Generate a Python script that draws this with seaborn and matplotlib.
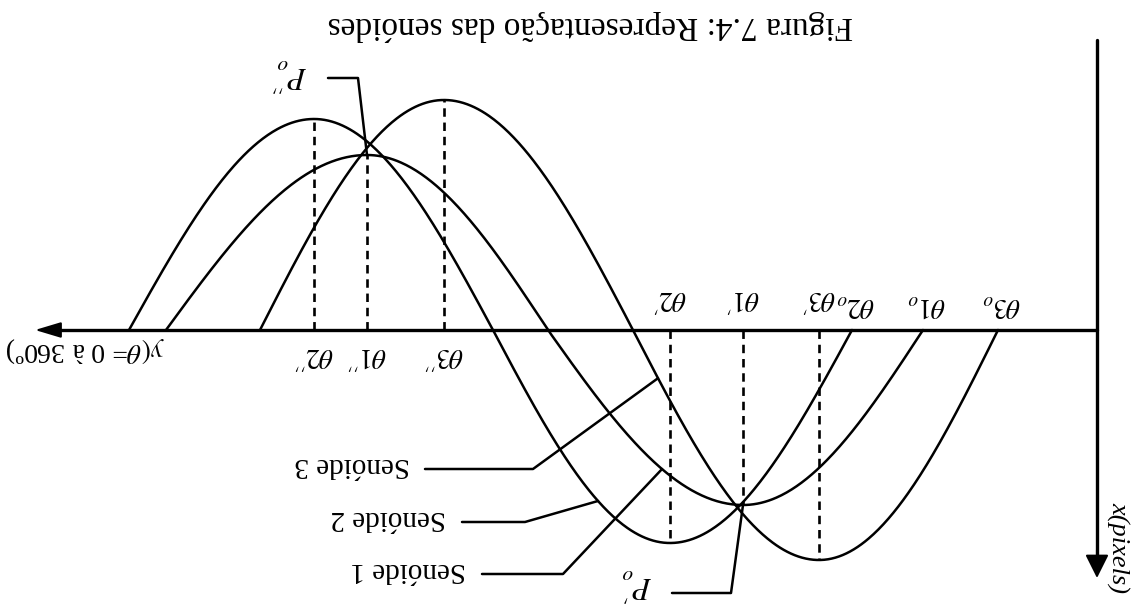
import numpy as np
import pandas as pd
import matplotlib
matplotlib.use("Agg")
import matplotlib.pyplot as plt
from matplotlib.patches import ArrowStyle
import seaborn as sns

sns.set_theme(style="white")
plt.rcParams["font.family"] = ["Liberation Serif", "DejaVu Serif"]
plt.rcParams["mathtext.fontset"] = "stix"

# Canvas in pixel units (the drawing is shown turned by 180 degrees)
W, H = 1133, 607
AXIS_Y = 330    # level of the θ axis
AXIS_X = 1097   # position of the x(pixels) axis

# Three sinusoids, each given by its zero crossings, extremes and lobe sizes
curve_names = ["Senóide 1", "Senóide 2", "Senóide 3"]
theta_start = [923, 852, 998]     # θ1o, θ2o, θ3o
theta_trough = [743, 670, 819]    # θ1', θ2', θ3'
theta_mid = [548, 493, 633]
theta_peak = [367, 314, 444]      # θ1'', θ2'', θ3''
theta_end = [166, 129, 260]
lobe_low = [175, 213, 230]
lobe_high = [175, 211, 230]

start_labels = [r"$\theta\mathit{1}_{o}$", r"$\theta\mathit{2}_{o}$", r"$\theta\mathit{3}_{o}$"]
trough_labels = [r"$\theta\mathit{1}'$", r"$\theta\mathit{2}'$", r"$\theta\mathit{3}'$"]
peak_labels = [r"$\theta\mathit{1}''$", r"$\theta\mathit{2}''$", r"$\theta\mathit{3}''$"]

# where the leader of each "Senóide" label touches its curve
leader_x = [662, 598, 658]


def wave(i, x):
    """Piecewise quarter-sine through the key points of sinusoid i."""
    x = np.asarray(x, dtype=float)
    s, t, m, p, e = theta_start[i], theta_trough[i], theta_mid[i], theta_peak[i], theta_end[i]
    y = np.full_like(x, AXIS_Y)
    a = (x <= s) & (x >= t)
    y[a] = AXIS_Y + lobe_low[i] * np.sin(np.pi / 2 * (s - x[a]) / (s - t))
    b = (x < t) & (x >= m)
    y[b] = AXIS_Y + lobe_low[i] * np.cos(np.pi / 2 * (t - x[b]) / (t - m))
    c = (x < m) & (x >= p)
    y[c] = AXIS_Y - lobe_high[i] * np.sin(np.pi / 2 * (m - x[c]) / (m - p))
    d = (x < p) & (x >= e)
    y[d] = AXIS_Y - lobe_high[i] * np.cos(np.pi / 2 * (p - x[d]) / (p - e))
    return y


frames = []
for i, name in enumerate(curve_names):
    xs = np.linspace(theta_end[i], theta_start[i], 600)
    frames.append(pd.DataFrame({"x": xs, "y": wave(i, xs), "curve": name}))
df = pd.concat(frames, ignore_index=True)

fig = plt.figure(figsize=(W / 100, H / 100), dpi=100)
ax = fig.add_axes([0, 0, 1, 1])
ax.set_xlim(0, W)
ax.set_ylim(H, 0)
ax.axis("off")

sns.lineplot(data=df, x="x", y="y", hue="curve", palette=["black"] * 3,
             estimator=None, sort=False, legend=False, linewidth=1.8, ax=ax)

# dashed guides from the axis to every extreme
for i in range(3):
    ax.plot([theta_trough[i]] * 2, [AXIS_Y, wave(i, [theta_trough[i]])[0]],
            color="black", lw=1.9, ls=(0, (3.2, 2.2)))
    ax.plot([theta_peak[i]] * 2, [AXIS_Y, wave(i, [theta_peak[i]])[0]],
            color="black", lw=1.9, ls=(0, (3.2, 2.2)))

# axes with arrowheads
ax.plot([AXIS_X, 50], [AXIS_Y, AXIS_Y], color="black", lw=2.4)
ax.annotate("", xy=(35, AXIS_Y), xytext=(60, AXIS_Y),
            arrowprops=dict(arrowstyle=ArrowStyle("-|>", head_length=0.8, head_width=0.24),
                            mutation_scale=20, color="black", lw=1.5, shrinkA=0, shrinkB=0))
ax.plot([AXIS_X, AXIS_X], [40, 565], color="black", lw=2.4)
ax.annotate("", xy=(AXIS_X, 578), xytext=(AXIS_X, 550),
            arrowprops=dict(arrowstyle=ArrowStyle("-|>", head_length=0.72, head_width=0.36),
                            mutation_scale=20, color="black", lw=1.5, shrinkA=0, shrinkB=0))

txt = dict(rotation=180, rotation_mode="anchor", color="black")

# title: right end of the turned string sits at the left
ax.text(328, 25, "Figura 7.4: Representação das senóides", fontsize=24,
        ha="right", va="center", **txt)
ax.text(85, 350, r"$y(\theta$= 0 à 360º)", fontsize=20, ha="center", va="center", **txt)
ax.text(1118, 547, "x(pixels)", fontsize=19, style="italic", ha="center", va="center",
        rotation=270, rotation_mode="anchor", color="black")

for i in range(3):
    ax.text(theta_start[i] + 4, 305, start_labels[i], fontsize=20, ha="center", va="center", **txt)
    ax.text(theta_trough[i], 297, trough_labels[i], fontsize=20, ha="center", va="center", **txt)
    ax.text(theta_peak[i], 354, peak_labels[i], fontsize=20, ha="center", va="center", **txt)

# leaders for the curve names
label_rows = [570, 518, 465]
label_end = [466, 446, 410]
bend_x = [563, 525, 533]
line_start = [482, 462, 425]
for i in range(3):
    ly = label_rows[i] + 4
    ax.plot([line_start[i], bend_x[i], leader_x[i]],
            [ly, ly, wave(i, [leader_x[i]])[0]], color="black", lw=1.8)
    ax.text(label_end[i], label_rows[i], curve_names[i], fontsize=21,
            ha="left", va="center", **txt)

# intersection points P0' and P0''
p_low = (theta_trough[0], wave(0, [theta_trough[0]])[0])
p_high = (theta_peak[0], wave(0, [theta_peak[0]])[0])
ax.plot([672, 731, p_low[0]], [593, 593, p_low[1]], color="black", lw=1.8)
ax.plot([328, 358, p_high[0]], [78, 78, p_high[1]], color="black", lw=1.8)
ax.text(637, 585, r"$P_o'$", fontsize=22, ha="center", va="center", **txt)
ax.text(290, 75, r"$P_o''$", fontsize=22, ha="center", va="center", **txt)

fig.savefig("out.png", dpi=100)
